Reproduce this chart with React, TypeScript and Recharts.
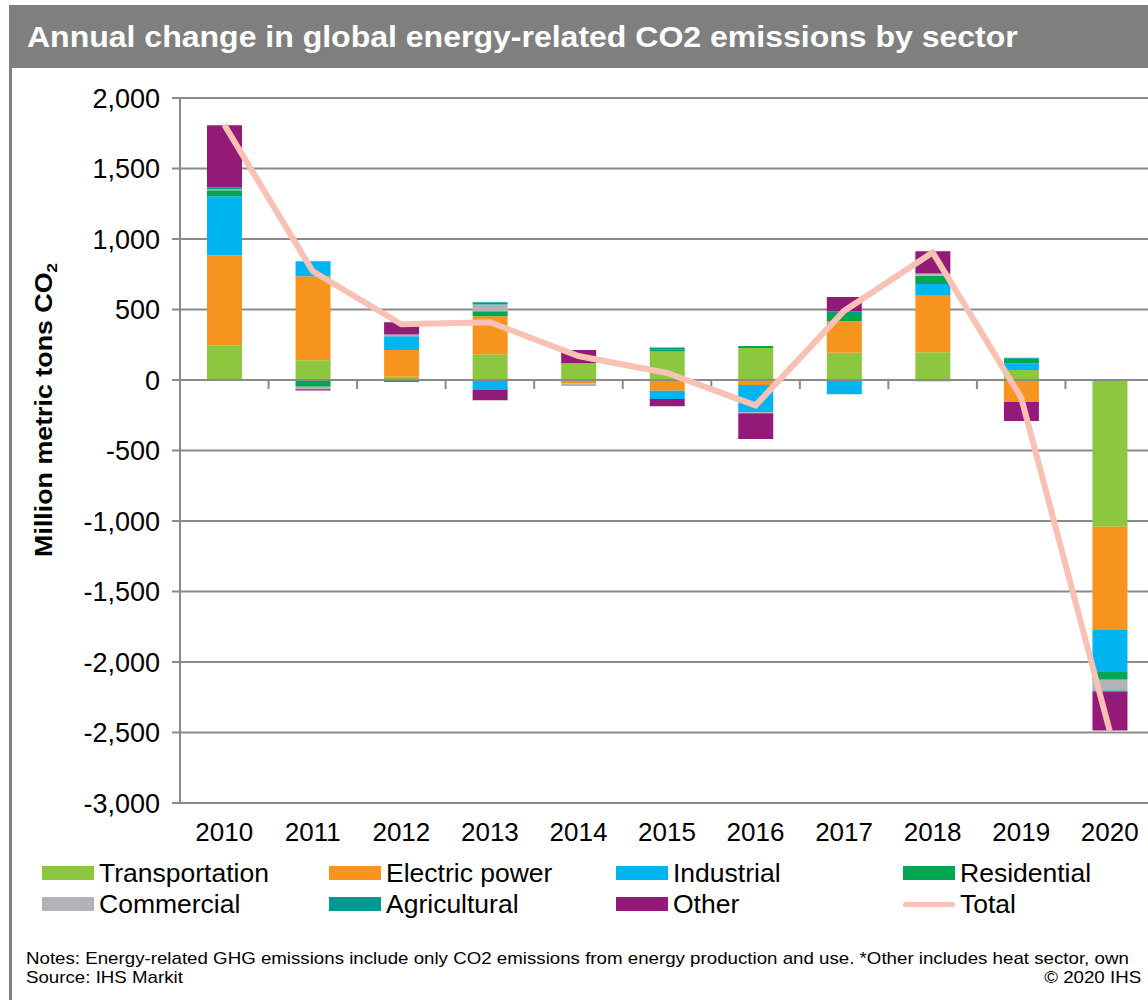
import React from "react";
import {
  Bar,
  CartesianGrid,
  ComposedChart,
  Line,
  ReferenceLine,
  XAxis,
  YAxis,
} from "recharts";

const years = ["2010", "2011", "2012", "2013", "2014", "2015", "2016", "2017", "2018", "2019", "2020"];

const transportation = [246, 140, 23, 182, 118, 202, 227, 193, 196, 71, -1041];
const electricPower = [639, 596, 189, 271, -24, -76, -35, 224, 406, -156, -732];
const industrial = [418, 107, 99, -71, 0, -59, -194, -101, 78, 47, -293];
const residential = [43, -48, -14, 35, 0, 16, 14, 59, 59, 33, -59];
const commercial = [7, -18, 12, 47, -19, 0, -7, 0, 16, 0, -78];
const agricultural = [12, 0, 0, 16, 0, 12, 0, 12, -8, 7, -7];
const other = [441, -8, 87, -73, 95, -52, -182, 101, 158, -134, -276];
const total = [1810, 770, 395, 410, 170, 50, -180, 490, 905, -125, -2490];

const yTicks = [-3000, -2500, -2000, -1500, -1000, -500, 0, 500, 1000, 1500, 2000];

const series = [
  { key: "transportation", name: "Transportation", color: "#8DC63F" },
  { key: "electricPower", name: "Electric power", color: "#F7941D" },
  { key: "industrial", name: "Industrial", color: "#00B4EF" },
  { key: "residential", name: "Residential", color: "#00A651" },
  { key: "commercial", name: "Commercial", color: "#B1B3B6" },
  { key: "agricultural", name: "Agricultural", color: "#009A93" },
  { key: "other", name: "Other", color: "#931A78" },
];

const TOTAL_COLOR = "#F9C0B4";
const AXIS_COLOR = "#8A8A8A";
const FONT = '"Liberation Sans", Arial, Helvetica, sans-serif';

const fmt = (v: number) => v.toLocaleString("en-US");

// zero line with the small category separators hanging under it
function ZeroAxis(props: any) {
  const { x1, x2, y1 } = props;
  const n = years.length;
  const step = (x2 - x1) / n;
  const marks = [];
  for (let i = 1; i <= n; i++) {
    const x = x1 + step * i;
    marks.push(<line key={i} x1={x} x2={x} y1={y1} y2={y1 + 9} stroke={AXIS_COLOR} strokeWidth={2} />);
  }
  return (
    <g>
      <line x1={x1} x2={x2} y1={y1} y2={y1} stroke={AXIS_COLOR} strokeWidth={2} />
      {marks}
    </g>
  );
}

const legendRows = [
  ["transportation", "electricPower", "industrial", "residential"],
  ["commercial", "agricultural", "other", "total"],
];
const legendX = [42, 329, 616, 903];

export default function App() {
  const data = years.map((year, i) => ({
    year,
    transportation: transportation[i],
    electricPower: electricPower[i],
    industrial: industrial[i],
    residential: residential[i],
    commercial: commercial[i],
    agricultural: agricultural[i],
    other: other[i],
    total: total[i],
  }));

  return (
    <div
      style={{
        position: "absolute",
        left: 0,
        top: 0,
        width: 1148,
        height: 1000,
        overflow: "hidden",
        background: "#fff",
        fontFamily: FONT,
      }}
    >
      <div style={{ position: "absolute", left: 9, top: 5, width: 1139, height: 63, background: "#7F7F7F" }} />
      <div
        style={{
          position: "absolute",
          left: 27,
          top: 5,
          height: 63,
          lineHeight: "63px",
          color: "#fff",
          fontWeight: "bold",
          fontSize: 30,
          whiteSpace: "nowrap",
          transform: "scaleX(1.067)",
          transformOrigin: "left center",
        }}
      >
        Annual change in global energy-related CO2 emissions by sector
      </div>
      <div style={{ position: "absolute", left: 9, top: 68, width: 3, height: 932, background: "#7F7F7F" }} />

      <div style={{ position: "absolute", left: 0, top: 0 }}>
        <ComposedChart
          width={1160}
          height={850}
          data={data}
          stackOffset="sign"
          margin={{ top: 98, right: 6, bottom: 7, left: 100 }}
        >
          <CartesianGrid vertical={false} stroke={AXIS_COLOR} strokeWidth={2} />
          <XAxis
            dataKey="year"
            axisLine={false}
            tickLine={false}
            height={40}
            interval={0}
            tickMargin={14}
            tick={{ fontSize: 26, fill: "#000", fontFamily: FONT }}
          />
          <YAxis
            width={80}
            domain={[-3000, 2000]}
            ticks={yTicks}
            tickFormatter={fmt}
            allowDataOverflow
            stroke={AXIS_COLOR}
            axisLine={{ stroke: AXIS_COLOR, strokeWidth: 2 }}
            tickLine={{ stroke: AXIS_COLOR, strokeWidth: 2 }}
            tickSize={8}
            tickMargin={12}
            tick={{ fontSize: 27, fill: "#000", fontFamily: FONT }}
          />
          {series.map((s) => (
            <Bar
              key={s.key}
              dataKey={s.key}
              name={s.name}
              stackId="a"
              fill={s.color}
              barSize={35}
              isAnimationActive={false}
            />
          ))}
          <ReferenceLine y={0} shape={ZeroAxis} />
          <Line
            type="linear"
            dataKey="total"
            name="Total"
            stroke={TOTAL_COLOR}
            strokeWidth={6}
            dot={false}
            activeDot={false}
            isAnimationActive={false}
          />
        </ComposedChart>
      </div>

      <div
        style={{
          position: "absolute",
          left: 45,
          top: 410,
          transform: "translate(-50%, -50%) rotate(-90deg) scaleX(1.117)",
          fontWeight: "bold",
          fontSize: 24,
          whiteSpace: "nowrap",
        }}
      >
        Million metric tons CO<sub style={{ fontSize: 15 }}>2</sub>
      </div>

      {legendRows.map((row, r) =>
        row.map((key, c) => {
          const s = series.find((q) => q.key === key);
          const isTotal = key === "total";
          return (
            <div
              key={key}
              style={{
                position: "absolute",
                left: legendX[c],
                top: 873 + r * 31 - 15,
                height: 30,
                display: "flex",
                alignItems: "center",
                fontSize: 26.5,
                whiteSpace: "nowrap",
              }}
            >
              <span
                style={{
                  display: "inline-block",
                  width: 52,
                  height: isTotal ? 5 : 14,
                  borderRadius: isTotal ? 3 : 0,
                  background: isTotal ? TOTAL_COLOR : s!.color,
                  marginRight: 5,
                }}
              />
              {isTotal ? "Total" : s!.name}
            </div>
          );
        })
      )}

      <div
        style={{
          position: "absolute",
          left: 26,
          top: 949,
          fontSize: 17,
          lineHeight: "19px",
          whiteSpace: "nowrap",
          transform: "scaleX(1.1)",
          transformOrigin: "left top",
        }}
      >
        Notes: Energy-related GHG emissions include only CO2 emissions from energy production and use. *Other includes heat sector, own
        <br />
        Source: IHS Markit
      </div>
      <div
        style={{
          position: "absolute",
          right: 7,
          top: 968,
          fontSize: 17,
          lineHeight: "19px",
          whiteSpace: "nowrap",
          transform: "scaleX(1.1)",
          transformOrigin: "right top",
        }}
      >
        © 2020 IHS
      </div>
    </div>
  );
}
